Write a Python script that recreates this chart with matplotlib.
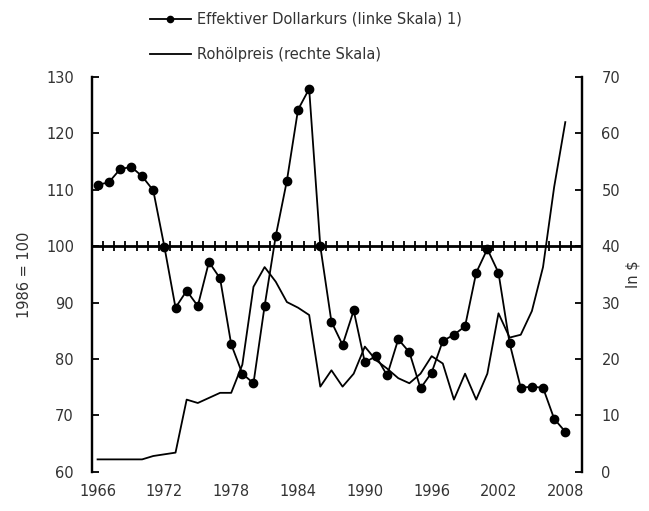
import numpy as np
import matplotlib
matplotlib.use("Agg")
import matplotlib.pyplot as plt

# Jahre 1966-2008
jahre = list(range(1966, 2009))

# Effektiver Dollarkurs, 1986 = 100 (linke Skala)
dollarkurs = [110.9, 111.3, 113.6, 114.1, 112.4, 109.9, 99.9, 89.1, 92.1, 89.4,
              97.2, 94.3, 82.6, 77.4, 75.7, 89.4, 101.8, 111.6, 124.2, 127.9,
              100.0, 86.6, 82.5, 88.6, 79.4, 80.5, 77.1, 83.5, 81.2, 74.8,
              77.6, 83.2, 84.3, 85.8, 95.3, 99.5, 95.3, 82.8, 74.9, 75.1,
              74.9, 69.4, 67.1]

# Rohölpreis in $ (rechte Skala)
oelpreis = [2.2, 2.2, 2.2, 2.2, 2.2, 2.8, 3.1, 3.4, 12.8, 12.2,
            13.1, 14.0, 14.0, 19.0, 32.8, 36.3, 33.7, 30.1, 29.1, 27.8,
            15.1, 18.0, 15.1, 17.4, 22.2, 19.8, 18.3, 16.6, 15.7, 17.4,
            20.5, 19.2, 12.8, 17.4, 12.8, 17.4, 28.1, 23.8, 24.3, 28.5,
            36.3, 50.5, 62.0]

label_dollar = "Effektiver Dollarkurs (linke Skala) 1)"
label_oel = "Rohölpreis (rechte Skala)"

x_labels = [1966, 1972, 1978, 1984, 1990, 1996, 2002, 2008]

textfarbe = "#333333"
plt.rcParams['font.family'] = ['DejaVu Sans']
plt.rcParams['font.size'] = 10.5

fig = plt.figure(figsize=(6.49, 5.11), dpi=100)
ax = fig.add_axes([92 / 649, 1 - 471.8 / 511, 490 / 649, 394.8 / 511])
ax2 = ax.twinx()

# ===========================
# Linien
# ===========================
l1, = ax.plot(jahre, dollarkurs, color='black', lw=1.3, marker='o',
              markersize=6, label=label_dollar, zorder=4)
l2, = ax2.plot(jahre, oelpreis, color='black', lw=1.3, label=label_oel)

# Kategorie-Achse bei 100 mit Teilstrichen
ax.axhline(100, color='black', lw=2, zorder=3)
grenzen = np.arange(jahre[0] + 0.5, jahre[-1] + 1, 1)
ax.vlines(grenzen, 99.1, 100.9, color='black', lw=1.3, zorder=3)

# ===========================
# Achsen
# ===========================
ax.set_xlim(jahre[0] - 0.5, jahre[-1] + 1.5)
ax.set_ylim(60, 130)
ax2.set_ylim(0, 70)
ax.set_yticks(range(60, 131, 10))
ax2.set_yticks(range(0, 71, 10))
ax.set_xticks(x_labels)

for a in (ax, ax2):
    a.spines['top'].set_visible(False)
    a.spines['bottom'].set_visible(False)
    a.spines['left'].set_linewidth(1.6)
    a.spines['right'].set_linewidth(1.6)

ax.tick_params(axis='y', direction='in', length=5, width=1.3, pad=13,
               labelcolor=textfarbe, labelsize=10.5)
ax2.tick_params(axis='y', direction='in', length=5, width=1.3, pad=14,
                labelcolor=textfarbe, labelsize=10.5)
ax.tick_params(axis='x', length=0, pad=9, labelcolor=textfarbe, labelsize=10.5)

ax.set_ylabel("1986 = 100", color=textfarbe, fontsize=10.5, labelpad=10)
ax2.set_ylabel("In $", color=textfarbe, fontsize=10.5, labelpad=4)

# ===========================
# Legende
# ===========================
fig.legend(handles=[l1, l2], loc='upper left',
           bbox_to_anchor=(150 / 649, 1 - 12 / 511), frameon=False,
           handlelength=2.8, handletextpad=0.4, labelspacing=1.35,
           borderpad=0, borderaxespad=0, markerscale=0.75,
           labelcolor=textfarbe, fontsize=10.5)

fig.savefig("out.png", dpi=100)
